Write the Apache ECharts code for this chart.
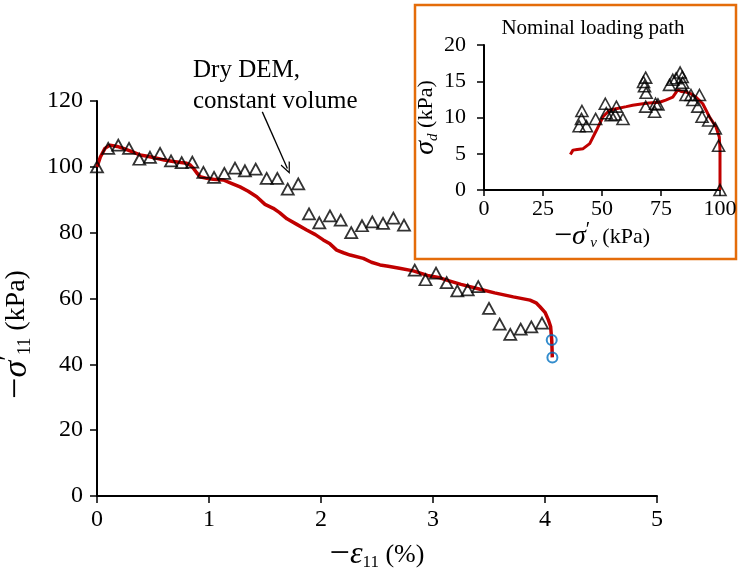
<!DOCTYPE html>
<html>
<head>
<meta charset="utf-8">
<script src="https://cdn.jsdelivr.net/npm/echarts@6/dist/echarts.min.js"></script>
<style>
  html, body { margin: 0; padding: 0; background: #ffffff; }
  #chart { width: 738px; height: 579px; }
</style>
</head>
<body>
<div id="chart"></div>
<script>
// Main panel: axial stress against axial strain
const strainDem = [0, 0.10, 0.19, 0.286, 0.378, 0.473, 0.563, 0.661, 0.756, 0.851, 0.95, 1.045, 1.137, 1.232, 1.321, 1.417, 1.515, 1.61, 1.703, 1.797, 1.893, 1.985, 2.08, 2.176, 2.27, 2.366, 2.458, 2.554, 2.646, 2.741, 2.837, 2.933, 3.027, 3.122, 3.217, 3.31, 3.404, 3.5, 3.595, 3.69, 3.783, 3.878, 3.973];
const stressDem = [100, 105.6, 106.6, 105.6, 102.3, 102.9, 104.1, 101.8, 101.3, 101.4, 98.3, 96.8, 98.0, 99.6, 98.8, 99.3, 96.5, 96.5, 93.2, 94.8, 85.7, 83.0, 85.1, 83.8, 80.0, 82.1, 83.3, 82.8, 84.4, 82.3, 68.6, 65.7, 67.7, 64.8, 62.3, 62.6, 63.6, 57.0, 52.2, 49.1, 50.7, 51.4, 52.5];

const strainTest = [0, 0.03, 0.071, 0.116, 0.18, 0.235, 0.30, 0.384, 0.45, 0.533, 0.60, 0.681, 0.75, 0.801, 0.83, 0.86, 0.89, 0.92, 0.98, 1.038, 1.128, 1.2, 1.277, 1.35, 1.426, 1.5, 1.574, 1.63, 1.696, 1.78, 1.872, 1.95, 2.02, 2.08, 2.14, 2.2, 2.26, 2.378, 2.45, 2.527, 2.6, 2.7, 2.824, 2.95, 3.05, 3.122, 3.25, 3.42, 3.55, 3.717, 3.866, 3.92, 3.955, 4.0, 4.03, 4.05, 4.06, 4.063, 4.065];
const stressTest = [100, 103, 105.6, 106.6, 106.2, 105.6, 104.8, 103.6, 103.2, 102.6, 102.1, 101.6, 101.3, 101.1, 100.6, 99.6, 98.2, 97.0, 96.5, 96.2, 96.0, 95.0, 93.9, 92.6, 90.9, 88.6, 87.4, 86.1, 84.2, 82.6, 80.8, 79.4, 77.8, 76.6, 74.7, 73.9, 73.2, 72.2, 71.0, 70.2, 69.8, 69.2, 68.4, 67.0, 66.4, 65.6, 64.3, 62.8, 61.7, 60.5, 59.5, 58.7, 57.5, 55.8, 53.5, 51.5, 47.4, 44.5, 42.1];

const strainMarked = [4.06, 4.066];
const stressMarked = [47.4, 42.1];

// Inset: nominal loading path
const pathDemV = [100, 99.4, 98.0, 95.2, 92.4, 90.6, 91.3, 88.5, 87.7, 85.6, 84.2, 83.5, 84.0, 83.1, 81.4, 80.0, 78.6, 73.7, 72.7, 72.3, 68.5, 68.7, 68.0, 68.5, 67.6, 58.9, 56.1, 55.6, 53.9, 51.8, 51.4, 47.3, 43.4, 40.3, 41.3, 41.5];
const pathDemD = [0, 6.1, 8.5, 9.6, 10.1, 11.5, 13.1, 12.4, 13.1, 13.1, 14.8, 14.5, 15.6, 16.2, 15.4, 15.2, 14.5, 11.8, 11.9, 10.8, 11.5, 13.4, 14.3, 15.5, 14.9, 9.8, 11.5, 10.4, 10.3, 10.6, 11.9, 9.8, 8.8, 8.8, 9.8, 10.9];

const pathTestV = [100, 100, 100, 99.7, 98.3, 95.5, 92.7, 89.9, 87.5, 85.6, 83.5, 82.1, 80.0, 77.0, 74.4, 70.0, 67.3, 63.0, 60.3, 56.0, 53.2, 50.4, 47.6, 44.8, 42.0, 39.5, 37.7, 36.9, 36.6];
const pathTestD = [0, 3.0, 5.5, 7.3, 8.7, 10.1, 11.9, 12.8, 13.3, 13.5, 13.6, 13.8, 12.8, 12.4, 12.1, 12.0, 11.9, 11.7, 11.5, 11.2, 11.0, 10.1, 8.2, 6.4, 5.7, 5.6, 5.5, 5.6, 4.9];

// Annotation arrow, in strain / stress units
const arrowFrom = [1.476, 116.7];
const arrowTo = [1.70, 99.5];

const mainXTicks = [0, 5, 1];
const mainYTicks = [0, 120, 20];
const insetXTicks = [0, 100, 25];
const insetYTicks = [0, 20, 5];

const zip = (a, b) => a.map((v, i) => [v, b[i]]);

const FONT = 'Liberation Serif';
const RED = '#C00000';
const ORANGE = '#E46C0A';

function axisBase(ticks, labelSize, margin, tickLen) {
  return {
    type: 'value',
    min: ticks[0], max: ticks[1], interval: ticks[2],
    axisLine: { show: true, onZero: false, lineStyle: { color: '#000', width: 2 } },
    axisTick: { show: true, inside: false, length: tickLen, lineStyle: { color: '#000', width: 1.5 } },
    splitLine: { show: false },
    axisLabel: { color: '#000', fontFamily: FONT, fontSize: labelSize, margin: margin }
  };
}

function nameRich(base) {
  return {
    m: { fontFamily: FONT, fontSize: base + 10, color: '#000' },
    s: { fontFamily: FONT, fontSize: base + 6, fontStyle: 'italic', color: '#000' },
    p: { fontFamily: FONT, fontSize: base - 2, color: '#000', padding: [0, 0, base * 0.55, 0] },
    b: { fontFamily: FONT, fontSize: Math.round(base * 0.65), color: '#000', padding: [base * 0.6, 0, 0, 0] },
    bi: { fontFamily: FONT, fontSize: Math.round(base * 0.7), fontStyle: 'italic', color: '#000', padding: [base * 0.6, 0, 0, 0] },
    t: { fontFamily: FONT, fontSize: base, color: '#000' }
  };
}

const chart = echarts.init(document.getElementById('chart'), null, { renderer: 'canvas' });

const option = {
  animation: false,
  backgroundColor: '#ffffff',
  grid: [
    { left: 97, right: 81, top: 101, bottom: 83, containLabel: false, outerBoundsMode: 'none' },
    { left: 484, right: 18, top: 45, bottom: 389, containLabel: false, outerBoundsMode: 'none' }
  ],
  xAxis: [
    Object.assign(axisBase(mainXTicks, 24, 12, 7), {
      gridIndex: 0,
      name: '{m|−}{s|ε}{b|11}{t| (%)}',
      nameLocation: 'middle',
      nameGap: 40,
      nameTextStyle: { rich: nameRich(26) }
    }),
    Object.assign(axisBase(insetXTicks, 22, 8, 6), {
      gridIndex: 1,
      name: '{m|−}{s|σ}{p|′}{bi|ν}{t| (kPa)}',
      nameLocation: 'middle',
      nameGap: 24,
      nameTextStyle: { rich: nameRich(22) }
    })
  ],
  yAxis: [
    Object.assign(axisBase(mainYTicks, 24, 14, 7), {
      gridIndex: 0,
      name: '{m|−}{s|σ}{p|′}{b|11}{t| (kPa)}',
      nameLocation: 'middle',
      nameRotate: 90,
      nameGap: 50,
      nameTextStyle: { rich: nameRich(28), padding: [0, 72, 0, 0] }
    }),
    Object.assign(axisBase(insetYTicks, 22, 18, 7), {
      gridIndex: 1,
      name: '{s|σ}{bi|d}{t| (kPa)}',
      nameLocation: 'middle',
      nameRotate: 90,
      nameGap: 42,
      nameTextStyle: { rich: nameRich(22) }
    })
  ],
  graphic: [
    {
      type: 'rect',
      shape: { x: 415, y: 5, width: 321, height: 254 },
      style: { fill: 'none', stroke: ORANGE, lineWidth: 2.5 },
      z: 0
    },
    {
      type: 'text',
      x: 593, y: 28,
      style: { text: 'Nominal loading path', fontFamily: FONT, fontSize: 21, fill: '#000', align: 'center', verticalAlign: 'middle' }
    },
    {
      type: 'text',
      x: 193, y: 70,
      style: { text: 'Dry DEM,', fontFamily: FONT, fontSize: 25, fill: '#000', align: 'left', verticalAlign: 'middle' }
    },
    {
      type: 'text',
      x: 193, y: 101,
      style: { text: 'constant volume', fontFamily: FONT, fontSize: 25, fill: '#000', align: 'left', verticalAlign: 'middle' }
    }
  ],
  series: [
    {
      type: 'line',
      xAxisIndex: 0, yAxisIndex: 0,
      data: zip(strainTest, stressTest),
      showSymbol: false,
      lineStyle: { color: RED, width: 3.5 },
      z: 2
    },
    {
      type: 'scatter',
      xAxisIndex: 0, yAxisIndex: 0,
      data: zip(strainDem, stressDem),
      symbol: 'triangle',
      symbolSize: [12, 11],
      itemStyle: { color: 'rgba(0,0,0,0)', borderColor: '#000', borderWidth: 1.8 },
      z: 3,
      markLine: {
        silent: true,
        symbol: ['none', 'path://M5,0 L10,10 L9,10.8 L5,2.6 L1,10.8 L0,10 Z'],
        symbolSize: [10, 12],
        label: { show: false },
        lineStyle: { color: '#000', width: 1.3, type: 'solid' },
        data: [[{ coord: arrowFrom }, { coord: arrowTo }]]
      }
    },
    {
      type: 'scatter',
      xAxisIndex: 0, yAxisIndex: 0,
      data: zip(strainMarked, stressMarked),
      symbol: 'circle',
      symbolSize: 10,
      itemStyle: { color: 'rgba(0,0,0,0)', borderColor: '#0070C0', borderWidth: 2 },
      z: 4
    },
    {
      type: 'line',
      xAxisIndex: 1, yAxisIndex: 1,
      data: zip(pathTestV, pathTestD),
      showSymbol: false,
      lineStyle: { color: RED, width: 3 },
      z: 2
    },
    {
      type: 'scatter',
      xAxisIndex: 1, yAxisIndex: 1,
      data: zip(pathDemV, pathDemD),
      symbol: 'triangle',
      symbolSize: [12, 11],
      itemStyle: { color: 'rgba(0,0,0,0)', borderColor: '#000', borderWidth: 1.6 },
      z: 3
    }
  ]
};

chart.setOption(option);
</script>
</body>
</html>
